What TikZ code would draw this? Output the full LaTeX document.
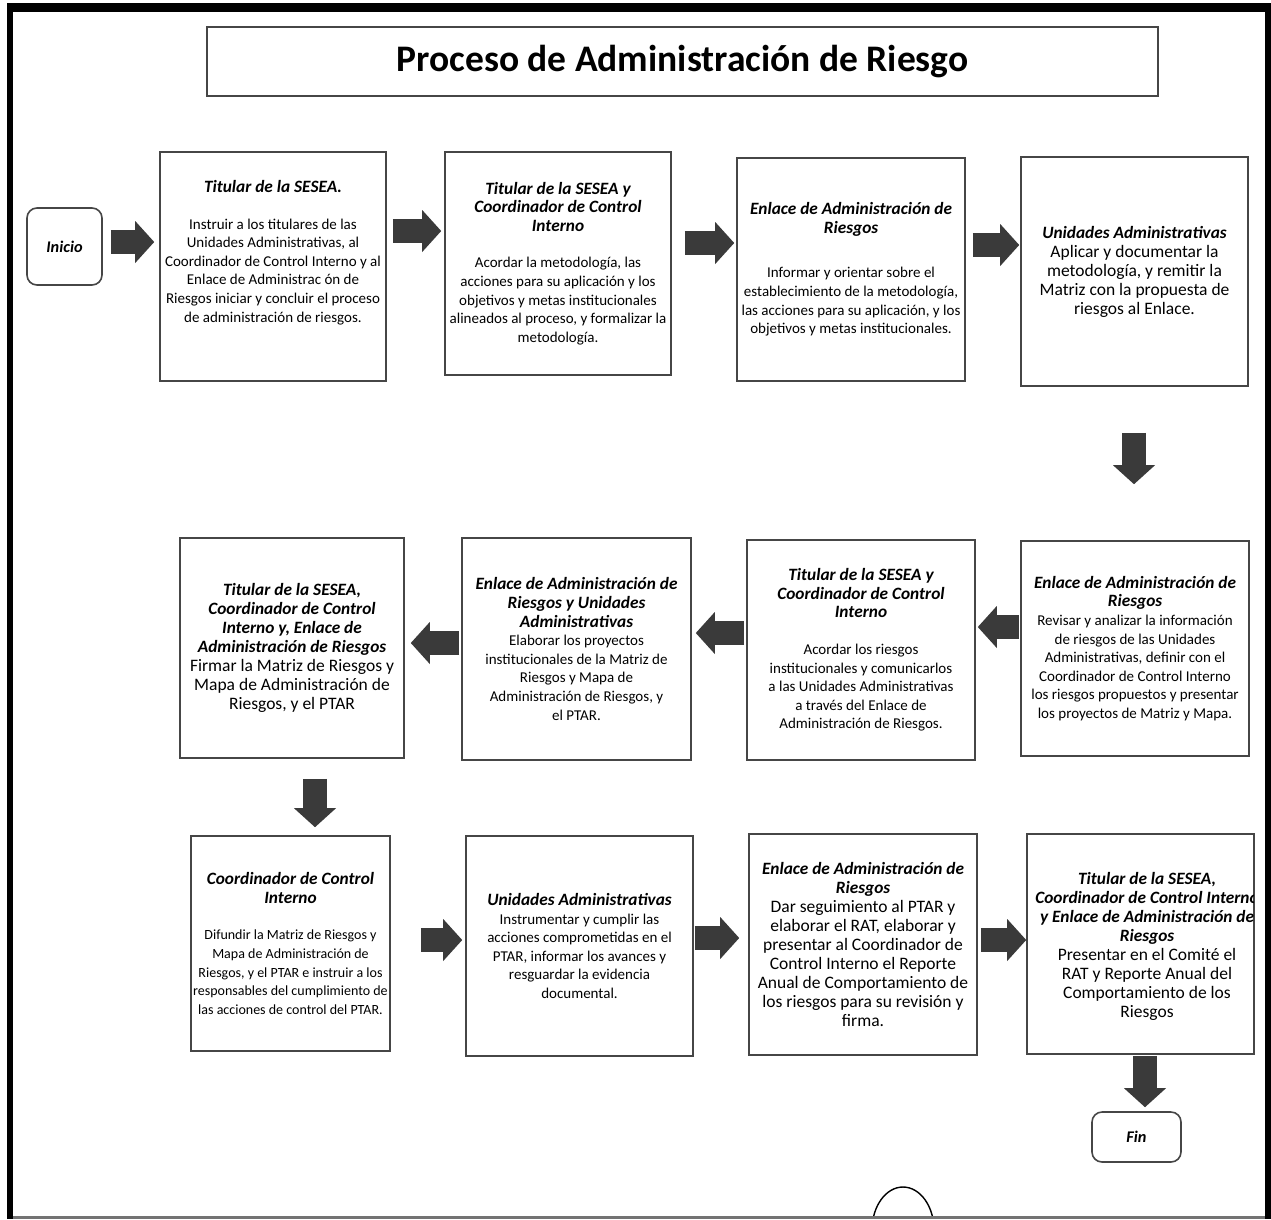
\documentclass[tikz,border=0pt]{standalone}
\usepackage{fontspec}
\setmainfont{Carlito}
\usetikzlibrary{arrows.meta}
\definecolor{arrowgray}{RGB}{58,58,58}
\definecolor{boxline}{RGB}{70,70,70}
\newcommand{\hd}[1]{{\fontsize{17.3}{18.6}\selectfont\bfseries\itshape #1}}
\tikzset{
  box/.style={draw=boxline, line width=1.6pt, inner sep=0pt, align=center, fill=white,
    font=\fontsize{15}{18.6}\selectfont},
  bigbody/.style={font=\fontsize{17.5}{19}\selectfont},
  term/.style={draw=boxline, line width=1.6pt, rounded corners=10pt, inner sep=0pt, align=center,
    font=\fontsize{16.3}{18}\selectfont},
  barrow/.style={draw=arrowgray, line width=24pt,
    -{Triangle[width=42pt,length=19pt,line width=0pt]}},
}
\begin{document}
\begin{tikzpicture}[x=1pt,y=-1pt]
\useasboundingbox (0,0) rectangle (1271,1219);
% frame
\fill[white] (0,0) rectangle (1271,1219);
\draw[black!55, line width=3pt] (8,1217) -- (1268,1217);
\draw[black, line width=9pt] (7,7) -- (1271,7);
\draw[black, line width=6pt] (10,3) -- (10,1219);
\draw[black, line width=6pt] (1268,3) -- (1268,1219);
% partial oval at bottom
\begin{scope}
\clip (0,0) rectangle (1271,1215.5);
\draw[black, line width=1.4pt] (903,1230) ellipse [x radius=31pt, y radius=43pt];
\end{scope}
% title
\node[draw=boxline, line width=1.8pt, minimum width=951pt, minimum height=69pt, inner sep=0pt,
  font=\fontsize{37.5}{42}\selectfont\bfseries] (title) at (682.5,61.5) {Proceso de Administración de Riesgo};

% terminals
\node[term, minimum width=75pt, minimum height=77pt] (ini) at (64.5,246.5) {\textbf{\textit{Inicio}}};
\node[term, minimum width=89pt, minimum height=50pt] (fin) at (1136.5,1137) {\textbf{\textit{Fin}}};

% row 1
\node[box, minimum width=226pt, minimum height=229pt] (b1) at (273,266.5) {%
\hd{Titular de la SESEA.}\\[18pt]
Instruir a los titulares de las\\
Unidades Administrativas, al\\
Coordinador de Control Interno y al\\
Enlace de Administrac ón de\\
Riesgos iniciar y concluir el proceso\\
de administración de riesgos.\\[12pt]};

\node[box, minimum width=226pt, minimum height=223pt] (b2) at (558,263.5) {%
\hd{Titular de la SESEA y}\\
\hd{Coordinador de Control}\\
\hd{Interno}\\[18pt]
Acordar la metodología, las\\
acciones para su aplicación y los\\
objetivos y metas institucionales\\
alineados al proceso, y formalizar la\\
metodología.};

\node[box, minimum width=228pt, minimum height=223pt] (b3) at (851,269.5) {%
\hd{Enlace de Administración de}\\
\hd{Riesgos}\\[26pt]
Informar y orientar sobre el\\
establecimiento de la metodología,\\
las acciones para su aplicación, y los\\
objetivos y metas institucionales.};

\node[box, bigbody, minimum width=227pt, minimum height=229pt] (b4) at (1134.5,271.5) {%
\hd{Unidades Administrativas}\\
Aplicar y documentar la\\
metodología, y remitir la\\
Matriz con la propuesta de\\
riesgos al Enlace.};

% row 2
\node[box, minimum width=228pt, minimum height=215pt] (b5) at (1135,648.5) {%
\hd{Enlace de Administración de}\\
\hd{Riesgos}\\
Revisar y analizar la información\\
de riesgos de las Unidades\\
Administrativas, definir con el\\
Coordinador de Control Interno\\
los riesgos propuestos y presentar\\
los proyectos de Matriz y Mapa.};

\node[box, minimum width=228pt, minimum height=220pt] (b6) at (861,650) {%
\hd{Titular de la SESEA y}\\
\hd{Coordinador de Control}\\
\hd{Interno}\\[18pt]
Acordar los riesgos\\
institucionales y comunicarlos\\
a las Unidades Administrativas\\
a través del Enlace de\\
Administración de Riesgos.};

\node[box, minimum width=229pt, minimum height=222pt] (b7) at (576.5,649) {%
\hd{Enlace de Administración de}\\
\hd{Riesgos y Unidades}\\
\hd{Administrativas}\\
Elaborar los proyectos\\
institucionales de la Matriz de\\
Riesgos y Mapa de\\
Administración de Riesgos, y\\
el PTAR.};

\node[box, bigbody, minimum width=224pt, minimum height=220pt] (b8) at (292,648) {%
\hd{Titular de la SESEA,}\\
\hd{Coordinador de Control}\\
\hd{Interno y, Enlace de}\\
\hd{Administración de Riesgos}\\
Firmar la Matriz de Riesgos y\\
Mapa de Administración de\\
Riesgos, y el PTAR};

% row 3
\node[box, font=\fontsize{14}{18.6}\selectfont, minimum width=199pt, minimum height=215pt] (b9) at (290.5,943.5) {%
\hd{Coordinador de Control}\\
\hd{Interno}\\[18pt]
Difundir la Matriz de Riesgos y\\
Mapa de Administración de\\
Riesgos, y el PTAR e instruir a los\\
responsables del cumplimiento de\\
las acciones de control del PTAR.};

\node[box, minimum width=227pt, minimum height=220pt] (b10) at (579.5,946) {%
\hd{Unidades Administrativas}\\
Instrumentar y cumplir las\\
acciones comprometidas en el\\
PTAR, informar los avances y\\
resguardar la evidencia\\
documental.};

\node[box, bigbody, minimum width=228pt, minimum height=221pt] (b11) at (863,944.5) {%
\hd{Enlace de Administración de}\\
\hd{Riesgos}\\
Dar seguimiento al PTAR y\\
elaborar el RAT, elaborar y\\
presentar al Coordinador de\\
Control Interno el Reporte\\
Anual de Comportamiento de\\
los riesgos para su revisión y\\
firma.};

\node[box, minimum width=227pt, minimum height=220pt] (b12) at (1140.5,944) {};
\begin{scope}
\clip (1028,835) rectangle (1253,1053);
\node[align=center, inner sep=0pt, font=\fontsize{17.5}{19}\selectfont] (b12t) at (1147,946) {%
\hd{Titular de la SESEA,}\\
\hd{Coordinador de Control Interno}\\
\hd{y Enlace de Administración de}\\
\hd{Riesgos}\\
Presentar en el Comité el\\
RAT y Reporte Anual del\\
Comportamiento de los\\
Riesgos};
\end{scope}

% connectors
\draw[barrow, shorten <=8pt, shorten >=5pt] (ini.east |- 0,242) -- (b1.west |- 0,242);
\draw[barrow, shorten <=6pt, shorten >=3pt] (b1.east |- 0,231) -- (b2.west |- 0,231);
\draw[barrow, shorten <=13pt, shorten >=2pt] (b2.east |- 0,243) -- (b3.west |- 0,243);
\draw[barrow, shorten <=7pt, shorten >=1pt] (b3.east |- 0,245) -- (b4.west |- 0,245);
\draw[barrow, shorten <=46pt, shorten >=56pt] (b4.south -| 1134,0) -- (b5.north -| 1134,0);
\draw[barrow, shorten <=1pt, shorten >=2pt] (b5.west |- 0,627) -- (b6.east |- 0,627);
\draw[barrow, shorten <=2pt, shorten >=4pt] (b6.west |- 0,633) -- (b7.east |- 0,633);
\draw[barrow, shorten <=2pt, shorten >=6pt] (b7.west |- 0,643) -- (b8.east |- 0,643);
\draw[barrow, shorten <=20pt, shorten >=8pt] (b8.south -| 315,0) -- (b9.north -| 315,0);
\draw[barrow, shorten <=30pt, shorten >=3pt] (b9.east |- 0,940) -- (b10.west |- 0,940);
\draw[barrow, shorten <=1pt, shorten >=9pt] (b10.east |- 0,938) -- (b11.west |- 0,938);
\draw[barrow, shorten <=3pt, shorten >=0pt] (b11.east |- 0,940) -- (b12.west |- 0,940);
\draw[barrow, shorten <=1pt, shorten >=4pt] (b12.south -| 1145,0) -- (fin.north -| 1145,0);
\end{tikzpicture}
\end{document}
